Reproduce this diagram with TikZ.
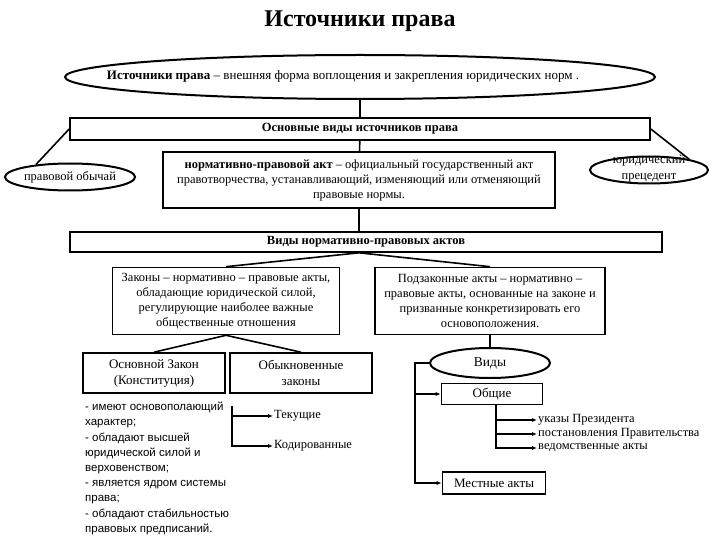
\documentclass[tikz,border=0pt]{standalone}
\usepackage{fontspec}
\setmainfont{Liberation Serif}
\setsansfont{Liberation Sans}
\usepackage{tikz}
\usetikzlibrary{arrows.meta,calc,positioning,shapes.geometric}

\begin{document}
\begin{tikzpicture}[x=1pt,y=-1pt,>={Latex[length=5pt,width=4pt]},
  box/.style={draw,line width=1.6pt,align=center,inner sep=2pt,font=\fontsize{12.5}{15}\selectfont},
  oval/.style={draw,ellipse,line width=2pt,inner sep=0pt,font=\fontsize{12.5}{14}\selectfont},
  link/.style={line width=1.6pt},
  arr/.style={->,line width=1.6pt},
  lbl/.style={anchor=west,inner sep=1pt,font=\fontsize{12.5}{14}\selectfont}]
\useasboundingbox (0,0) rectangle (720,540);
% top
\node (title) at (360,21) {\fontsize{24}{28}\selectfont\bfseries Источники права};
\node[oval,minimum width=590,minimum height=44] (def) at (360,77) {};
\node[inner sep=0pt,font=\fontsize{13}{15}\selectfont] (deftxt) at (343,76)
  {\textbf{Источники права} -- внешняя форма воплощения и закрепления юридических норм .};
\node[box,minimum width=580,minimum height=22] (osn) at (360,129) {\textbf{Основные виды источников права}};
\node[box,minimum width=392,minimum height=56] (npa) at (359,180)
  {\textbf{нормативно-правовой акт} -- официальный государственный акт\\
   правотворчества, устанавливающий, изменяющий или отменяющий\\ правовые нормы.};
\node[oval,minimum width=120,minimum height=27] (obychai) at (70,177) {правовой обычай};
\node[oval,minimum width=118,minimum height=27] (prec) at (649,170) {};
\node[align=center,inner sep=0pt,font=\fontsize{12.5}{16}\selectfont] (prectxt) at (649,169) {юридический\\прецедент};
\draw[link] (def.south) -- (osn.north);
\draw[link] (osn) -- (npa);
\draw[link] (osn.west) -- (obychai.160);
\draw[link] (osn.east) -- (prec.15);
% npa kinds
\node[box,minimum width=592,minimum height=20] (vidy) at (366,242) {\textbf{Виды нормативно-правовых актов}};
\coordinate (fan) at (npa.south |- vidy.south);
\draw[link] (npa.south) -- (npa.south |- vidy.north);
\node[box,minimum width=227,minimum height=67] (zakony) at (226,301)
  {Законы -- нормативно -- правовые акты,\\ обладающие юридической силой,\\
   регулирующие наиболее важные\\ общественные отношения};
\node[box,minimum width=230,minimum height=67] (podzak) at (490,301)
  {Подзаконные акты -- нормативно --\\ правовые акты, основанные на законе и\\
   призванные конкретизировать его\\ основоположения.};
\draw[link] (fan) -- (zakony.north);
\draw[link] (fan) -- (podzak.north);
% laws
\node[box,minimum width=142,minimum height=40,font=\fontsize{13}{16}\selectfont] (konst) at (154,373) {Основной Закон\\(Конституция)};
\node[box,minimum width=142,minimum height=40,font=\fontsize{13}{16}\selectfont] (obyk) at (301,373) {Обыкновенные\\законы};
\draw[link] (zakony.south) -- (konst.north);
\draw[link] (zakony.south) -- (obyk.north);
\node[anchor=north west,align=left,inner sep=0pt,font=\sffamily\fontsize{11.5}{15.2}\selectfont] (svoistva) at (85,402)
  {- имеют основополающий\\ характер;\\ - обладают высшей\\ юридической силой и\\ верховенством;\\
   - является ядром системы\\ права;\\ - обладают стабильностью\\ правовых предписаний.};
\node[lbl] (tek) at (273,416) {Текущие};
\node[lbl] (kod) at (273,446) {Кодированные};
\coordinate (br) at (232,406);
\draw[arr] (br) |- (tek.west);
\draw[arr] (br) |- (kod.west);
% by-laws
\node[oval,minimum width=120,minimum height=30,font=\fontsize{13.5}{16}\selectfont] (vidy2) at (490,363) {Виды};
\node[box,minimum width=101,minimum height=21,font=\fontsize{13}{16}\selectfont] (obsch) at (492,394) {Общие};
\node[box,minimum width=103,minimum height=22,font=\fontsize{13}{16}\selectfont] (mest) at (494,483) {Местные акты};
\draw[link] (podzak.south) -- (vidy2.north);
\draw[arr] (vidy2.west) -- ++(-14,0) |- (obsch.west);
\draw[arr] (vidy2.west) -- ++(-14,0) |- (mest.west);
\node[lbl] (ukazy) at (537,420) {указы Президента};
\node[lbl] (post) at (537,434) {постановления Правительства};
\node[lbl] (ved) at (537,448) {ведомственные акты};
\draw[arr] ([xshift=4pt]obsch.south) |- (ukazy.west);
\draw[arr] ([xshift=4pt]obsch.south) |- (post.west);
\draw[arr] ([xshift=4pt]obsch.south) |- (ved.west);
\end{tikzpicture}
\end{document}
